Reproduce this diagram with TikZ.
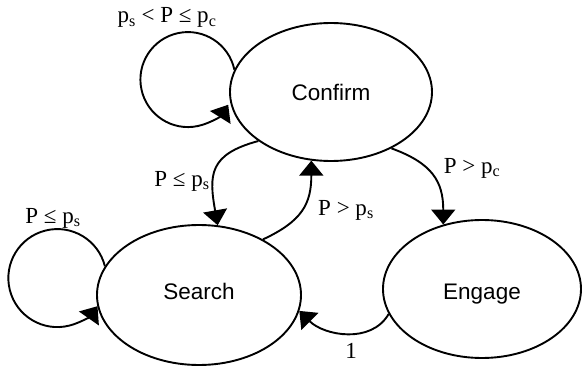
\documentclass[tikz,border=0pt]{standalone}
\usepackage{fontspec}
\setmainfont{Liberation Serif}
\setsansfont{Liberation Sans}
\usetikzlibrary{shapes.geometric,arrows.meta}
\begin{document}
\begin{tikzpicture}[x=1pt,y=1pt,
  state/.style={draw, ellipse, line width=1.9pt, inner sep=0pt,
    font=\sffamily\fontsize{22.5}{27}\selectfont, text height=16pt, text depth=0pt},
  arr/.style={line width=1.9pt, -{Triangle[length=15pt,width=24pt]}},
  lbl/.style={font=\fontsize{23}{27}\selectfont, inner sep=0pt, anchor=base}]
\useasboundingbox (0,0) rectangle (582,368);
\node[state, minimum width=202pt, minimum height=138pt] (confirm) at (331,276) {Confirm};
\node[state, minimum width=204pt, minimum height=140pt, text depth=8pt] (search) at (199,73) {Search};
\node[state, minimum width=198pt, minimum height=138pt, text height=20pt] (engage) at (482,79) {Engage};
% self loops
\draw[arr] (confirm.167) arc[start angle=12, end angle=328, radius=47.5];
\draw[arr] (search.163) arc[start angle=14, end angle=325, radius=49];
% transitions
\draw[arr] (confirm.214) to[out=195, in=100, looseness=1.4] (search.75);
\draw[arr] (search.41) to[out=25, in=-90, looseness=1.2] (confirm.254);
\draw[arr] (confirm.317) to[out=-20, in=90, looseness=1.2] (engage.121);
\draw[arr] (engage.195) to[out=240, in=-45, looseness=1] (search.351);
% labels
\node[lbl] (l1) at (167,345) {p\textsubscript{s} < P ≤ p\textsubscript{c}};
\node[lbl] (l2) at (53,145) {P ≤ p\textsubscript{s}};
\node[lbl] (l3) at (182,182) {P ≤ p\textsubscript{s}};
\node[lbl] (l4) at (346,153) {P > p\textsubscript{s}};
\node[lbl] (l5) at (472,195) {P > p\textsubscript{c}};
\node[lbl] (l6) at (351,10) {1};
\end{tikzpicture}
\end{document}
